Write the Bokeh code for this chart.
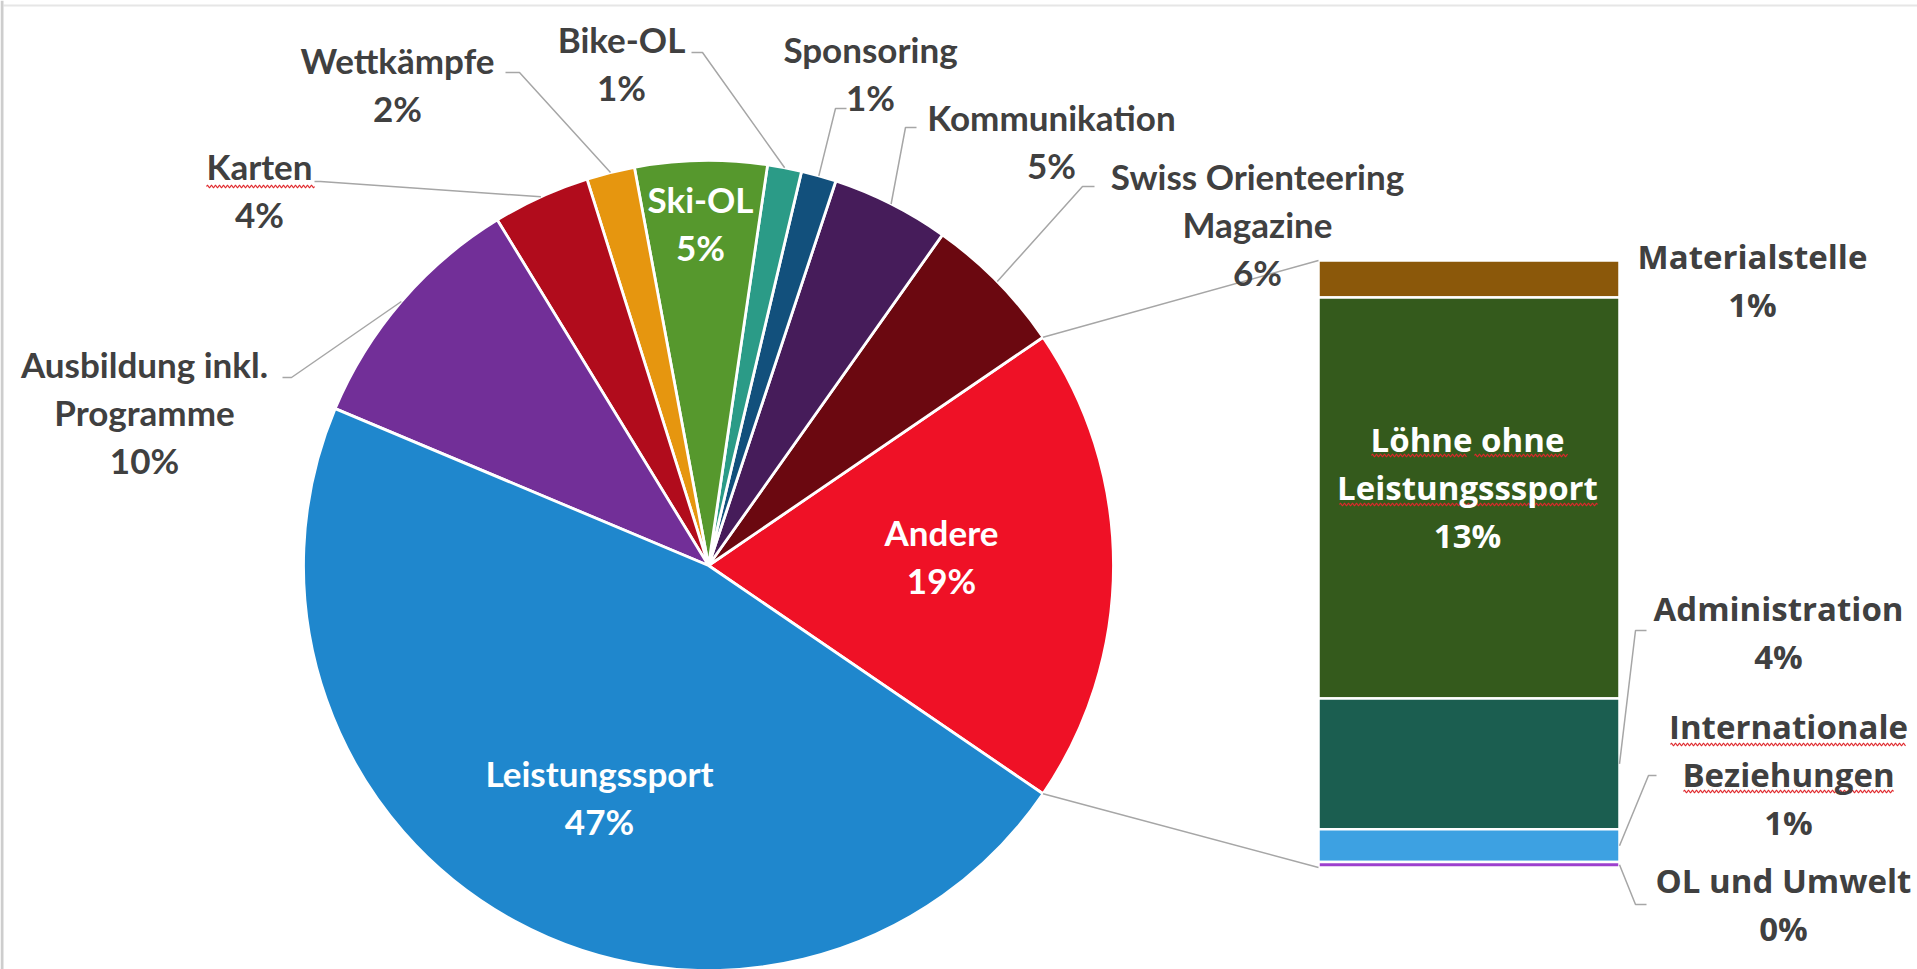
import numpy as np
from bokeh.plotting import figure
from bokeh.models import Range1d, ColumnDataSource
from bokeh.embed import file_html
from bokeh.resources import INLINE
from bokeh.core.properties import value

# ---------------- data ----------------
pie_names = ["Andere", "Swiss Orienteering\nMagazine", "Kommunikation", "Sponsoring",
             "Bike-OL", "Ski-OL", "Wettkämpfe", "Karten",
             "Ausbildung inkl.\nProgramme", "Leistungssport"]
pie_values = [19.06, 5.67, 4.71, 1.40, 1.36, 5.26, 1.92, 3.88, 9.94, 46.80]
pie_colors = ["#EF1126", "#6B0810", "#461C5A", "#12507C", "#2B9B87",
              "#56982D", "#E6960F", "#B10C1C", "#722F98", "#1F87CD"]

bar_names = ["Materialstelle", "Löhne ohne\nLeistungsssport", "Administration",
             "Internationale\nBeziehungen", "OL und Umwelt"]
bar_values = [1.16, 12.59, 4.10, 1.03, 0.17]
bar_colors = ["#8B580A", "#345A1C", "#1B5E50", "#3DA1E2", "#9D40CE"]

# ---------------- layout (reference pixel coords) ----------------
W, H = 1917, 969
def Y(v):
    return H - v

CX, CY, R = 708, Y(565), 405
BX0, BX1, BTOP, BBOT = 1318, 1619, Y(260), Y(867)
LS = 48       # line spacing
TXT_DY = -2   # small vertical nudge of all labels

pie_lab_pos = {
    0: (941, 557), 1: (1257, 225), 2: (1051, 142), 3: (870, 74), 4: (621, 64),
    5: (700, 224), 6: (397, 85), 7: (259, 191), 8: (144, 413), 9: (599, 798),
}
pie_inside = {0, 5, 9}
pie_leader = {
    1: ((1082, 186), (1094, 186)), 2: ((905, 127), (916, 127)),
    3: ((835, 108), (846, 108)), 4: ((702, 52), (691, 52)),
    6: ((519, 72), (505, 72)), 7: ((320, 181), (314, 181)),
    8: ((291, 377), (282, 377)),
}
bar_lab_pos = {0: (1752, 282), 1: (1467, 489), 2: (1778, 634), 3: (1788, 776), 4: (1783, 906)}
bar_inside = {1}
bar_leader = {2: ((1635, 630), (1646, 630)), 3: ((1648, 775), (1656, 775)),
              4: ((1635, 904), (1646, 904))}

# spell-check squiggles under some words: (x0, x1, y)
squiggles = [(206, 314, 186), (1371, 1466, 455), (1474, 1567, 455),
             (1339, 1597, 504), (1670, 1905, 744), (1683, 1893, 791)]

p = figure(width=W, height=H, x_range=Range1d(0, W), y_range=Range1d(0, H),
           output_backend="svg", toolbar_location=None, min_border=0)
p.axis.visible = False
p.grid.visible = False
p.outline_line_color = None
p.background_fill_color = "white"

# chart-area border (top and left visible)
p.segment(x0=[3, 1.5], y0=[Y(5), Y(0)], x1=[W, 1.5], y1=[Y(5), Y(H)],
          line_color=["#E6E6E6", "#CDCDCD"], line_width=[2, 3])

# ---------------- pie ----------------
vals = np.array(pie_values, dtype=float)
ang = vals / vals.sum() * 2 * np.pi
start = -ang[0] / 2 + np.concatenate([[0.0], np.cumsum(ang)[:-1]])
end = start + ang
mid = (start + end) / 2
pie_src = ColumnDataSource(dict(start=start, end=end, color=pie_colors))
p.wedge(x=CX, y=CY, radius=R, start_angle="start", end_angle="end", direction="anticlock",
        fill_color="color", line_color="white", line_width=2.8, source=pie_src)

# ---------------- bar ----------------
bv = np.array(bar_values, dtype=float)
scale = (BTOP - BBOT) / bv.sum()
tops = BTOP - np.concatenate([[0.0], np.cumsum(bv)[:-1]]) * scale
bots = tops - bv * scale
bar_src = ColumnDataSource(dict(top=tops, bottom=bots, color=bar_colors))
p.quad(left=BX0, right=BX1, top="top", bottom="bottom", fill_color="color",
       line_color="white", line_width=2.5, source=bar_src)

# ---------------- connectors pie -> bar ----------------
conn_xs = [[CX + R * np.cos(end[0]), BX0], [CX + R * np.cos(start[0]), BX0]]
conn_ys = [[CY + R * np.sin(end[0]), BTOP], [CY + R * np.sin(start[0]), BBOT]]
p.multi_line(xs=conn_xs, ys=conn_ys, line_color="#A6A6A6", line_width=1.5)

# ---------------- leader lines ----------------
lxs, lys = [], []
for i, (el, en) in pie_leader.items():
    lxs.append([CX + R * np.cos(mid[i]), el[0], en[0]])
    lys.append([CY + R * np.sin(mid[i]), Y(el[1]), Y(en[1])])
for i, (el, en) in bar_leader.items():
    lxs.append([BX1, el[0], en[0]])
    lys.append([(tops[i] + bots[i]) / 2, Y(el[1]), Y(en[1])])
p.multi_line(xs=lxs, ys=lys, line_color="#A6A6A6", line_width=1.5)

# ---------------- squiggles ----------------
sxs, sys_ = [], []
for x0, x1, yy in squiggles:
    xs = np.arange(x0, x1 + 0.1, 1.0)
    sxs.append(list(xs))
    sys_.append(list(Y(yy) + 1.3 * np.sin((xs - x0) * np.pi / 2.0)))
p.multi_line(xs=sxs, ys=sys_, line_color="#E0282C", line_width=1.2)

# ---------------- labels ----------------
def add_lines(store, name, pct, pos):
    lines = name.split("\n") + [f"{int(round(pct))}%"]
    n = len(lines)
    for k, t in enumerate(lines):
        store["x"].append(pos[0])
        store["y"].append(Y(pos[1] + TXT_DY + (k - (n - 1) / 2) * LS))
        store["t"].append(t)

groups = {key: {"x": [], "y": [], "t": []} for key in ["pie_out", "pie_in", "bar_out", "bar_in"]}
for i, nm in enumerate(pie_names):
    add_lines(groups["pie_in" if i in pie_inside else "pie_out"], nm, pie_values[i], pie_lab_pos[i])
for i, nm in enumerate(bar_names):
    add_lines(groups["bar_in" if i in bar_inside else "bar_out"], nm, bar_values[i], bar_lab_pos[i])

styles = {
    "pie_out": ("Lato", "35px", "#404040"),
    "pie_in": ("Lato", "35px", "#FFFFFF"),
    "bar_out": ("Open Sans", "33px", "#404040"),
    "bar_in": ("Open Sans", "33px", "#FFFFFF"),
}
for key, g in groups.items():
    font, size, col = styles[key]
    p.text(x=g["x"], y=g["y"], text=g["t"], text_font=value(font), text_font_style="bold",
           text_font_size=size, text_color=col, text_align="center", text_baseline="middle")

open("out.html", "w").write(file_html(p, INLINE))
